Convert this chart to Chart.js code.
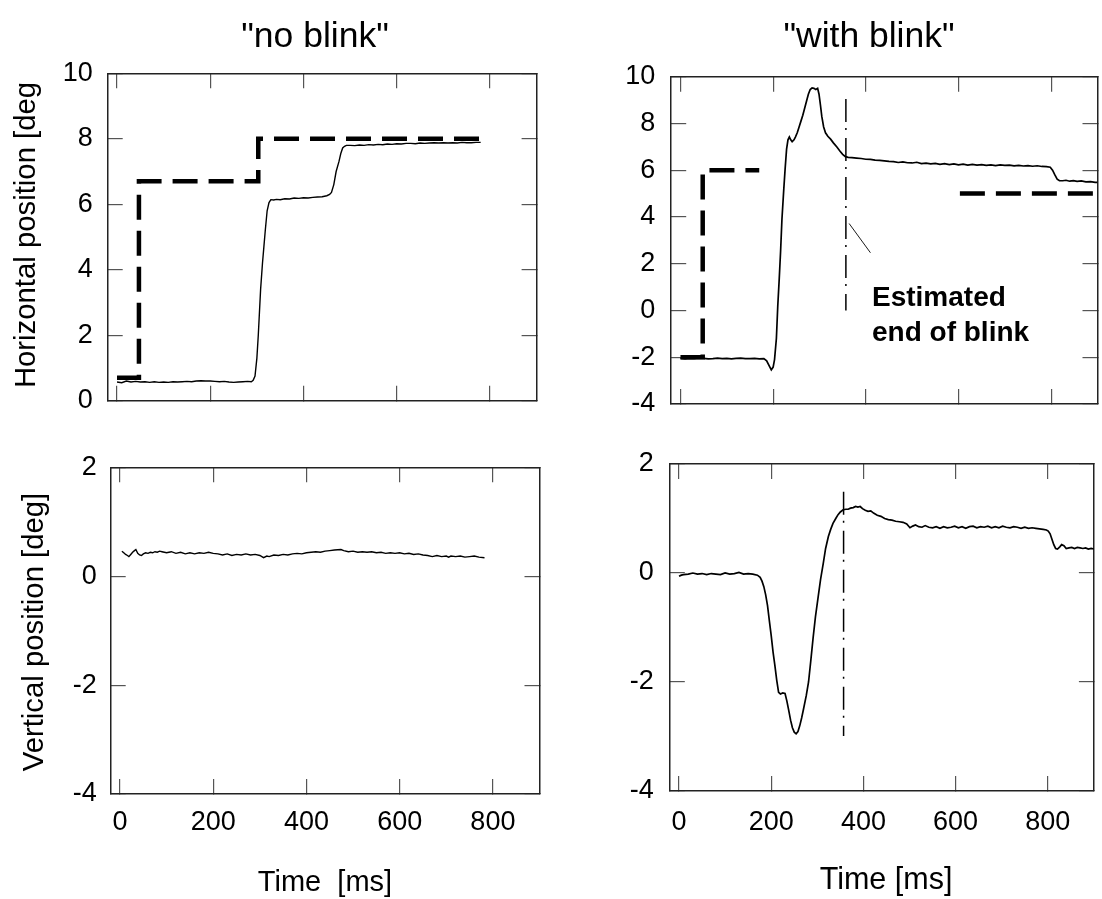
<!DOCTYPE html>
<html><head><meta charset="utf-8">
<script src="https://cdn.jsdelivr.net/npm/chart.js@4/dist/chart.umd.min.js"></script>
<style>
html,body{margin:0;padding:0;background:#fff;}
#wrap{position:relative;width:1102px;height:899px;overflow:hidden;font-family:"Liberation Sans",Arial,sans-serif;color:#000;background:#fff;}
canvas{position:absolute;left:0;top:0;}
.t{position:absolute;white-space:pre;line-height:1;transform:translate(-50%,-50%);}
.v{transform:translate(-50%,-50%) rotate(-90deg);}
.b{position:absolute;white-space:pre;line-height:1;font-weight:bold;}
</style></head>
<body><div id="wrap">
<canvas id="cTL" width="1102" height="899"></canvas>
<canvas id="cTR" width="1102" height="899"></canvas>
<canvas id="cBL" width="1102" height="899"></canvas>
<canvas id="cBR" width="1102" height="899"></canvas>
<div class="t" style="left:315px;top:36px;font-size:35.5px">"no blink"</div>
<div class="t" style="left:869px;top:36px;font-size:35.5px">"with blink"</div>
<div class="t v" style="left:25px;top:235px;font-size:29.3px">Horizontal position [deg</div>
<div class="t v" style="left:33px;top:632px;font-size:29.3px">Vertical position [deg]</div>
<div class="t" style="left:325px;top:881px;font-size:29px">Time  [ms]</div>
<div class="t" style="left:886px;top:878px;font-size:30.5px">Time [ms]</div>
<div class="b" style="left:872px;top:283px;font-size:28px">Estimated</div>
<div class="b" style="left:872px;top:318px;font-size:28px">end of blink</div>
</div>
<script>
// ---------- tick values ----------
const xTickVals = [0, 200, 400, 600, 800];
const yTicksTop = [0, 2, 4, 6, 8, 10];
const yTicksTopRight = [-4, -2, 0, 2, 4, 6, 8, 10];
const yTicksBottom = [-4, -2, 0, 2];

// ---------- "no blink" horizontal: eye position ----------
const nbHorT = [0,10,20,30,40,50,60,70,80,90,100,110,120,130,140,150,160,170,180,190,200,210,220,230,240,250,260,270,280,288,292,296,300,303,308,312,315,318,322,326,330,336,342,350,360,370,380,390,400,410,420,430,440,450,456,460,465,470,476,480,484,488,492,500,510,520,530,540,550,560,570,580,590,600,610,620,630,640,650,660,670,680,690,700,710,720,730,740,750,760,770,780];
const nbHorV = [0.57,0.55,0.6,0.57,0.59,0.57,0.58,0.56,0.58,0.56,0.57,0.56,0.58,0.57,0.58,0.59,0.58,0.6,0.61,0.6,0.6,0.59,0.58,0.59,0.57,0.56,0.57,0.58,0.59,0.58,0.62,0.75,1.3,2.0,3.4,4.2,4.7,5.2,5.8,6.05,6.14,6.13,6.15,6.14,6.17,6.16,6.19,6.18,6.2,6.19,6.21,6.22,6.23,6.26,6.3,6.36,6.6,7.0,7.3,7.55,7.72,7.77,7.8,7.8,7.79,7.81,7.8,7.82,7.81,7.83,7.82,7.84,7.83,7.85,7.84,7.86,7.86,7.85,7.87,7.86,7.87,7.88,7.87,7.88,7.87,7.88,7.87,7.89,7.88,7.88,7.89,7.89];
// ---------- "no blink" horizontal: target ----------
const nbTgtT = [0, 47, 47, 303, 303, 781];
const nbTgtV = [0.7, 0.7, 6.7, 6.7, 8.0, 8.0];

// ---------- "with blink" horizontal: eye position ----------
const wbHorT = [0,10,20,30,40,50,60,70,80,90,100,110,120,130,140,150,160,170,180,186,191,196,200,203,207,210,213,216,219,223,226,229,232,235,238,241,245,248,252,256,260,264,268,272,276,280,284,288,292,296,299,302,305,309,313,318,324,330,338,344,350,356,362,370,380,390,400,410,420,430,440,450,460,470,480,490,500,510,520,530,540,550,560,570,580,590,600,610,620,630,640,650,660,670,680,690,700,710,720,730,740,750,760,770,780,790,798,803,808,813,818,825,832,840,848,856,865,875,885,895,900];
const wbHorV = [-2.05,-2.07,-2.05,-2.06,-2.04,-2.05,-2.07,-2.06,-2.04,-2.06,-2.05,-2.07,-2.05,-2.04,-2.06,-2.06,-2.05,-2.07,-2.06,-2.15,-2.35,-2.54,-2.42,-2.1,-1.2,0.2,1.3,2.5,3.9,5.2,6.1,6.9,7.3,7.42,7.3,7.22,7.3,7.42,7.6,7.85,8.1,8.35,8.65,8.95,9.25,9.45,9.52,9.5,9.45,9.5,9.25,8.8,8.3,7.85,7.6,7.45,7.33,7.17,6.98,6.82,6.68,6.58,6.55,6.54,6.52,6.5,6.47,6.46,6.43,6.42,6.4,6.38,6.37,6.33,6.36,6.32,6.31,6.34,6.28,6.3,6.27,6.29,6.25,6.28,6.24,6.27,6.23,6.26,6.22,6.25,6.22,6.24,6.21,6.23,6.2,6.23,6.21,6.22,6.19,6.21,6.18,6.2,6.17,6.19,6.16,6.15,6.13,6.0,5.8,5.62,5.55,5.55,5.57,5.53,5.55,5.52,5.54,5.5,5.51,5.48,5.48];
// ---------- "with blink" horizontal: target (gap = null) ----------
const wbTgtT = [0, 48, 48, 170, 400, 603, 900];
const wbTgtV = [-2.0, -2.0, 6.0, 6.0, null, 5.0, 5.0];

// ---------- "no blink" vertical: eye position ----------
const nbVerT = [4,8,12,16,19,23,27,31,34,38,42,46,50,55,60,65,70,75,80,85,90,95,100,110,120,130,140,150,160,170,180,190,200,210,220,230,240,250,260,270,280,290,300,308,315,320,330,340,350,360,370,380,390,400,410,420,430,440,450,460,474,480,490,500,510,520,530,540,550,560,570,580,590,600,610,620,630,640,650,660,670,680,690,700,705,710,720,730,740,750,760,770,782];
const nbVerV = [0.46,0.43,0.4,0.38,0.36,0.4,0.44,0.47,0.49,0.42,0.39,0.38,0.41,0.43,0.42,0.44,0.43,0.45,0.44,0.46,0.45,0.44,0.43,0.45,0.42,0.44,0.41,0.43,0.41,0.43,0.42,0.44,0.42,0.41,0.39,0.41,0.38,0.4,0.39,0.41,0.39,0.4,0.38,0.34,0.37,0.36,0.39,0.38,0.4,0.39,0.41,0.42,0.41,0.43,0.44,0.45,0.44,0.46,0.47,0.48,0.49,0.47,0.45,0.46,0.44,0.45,0.44,0.45,0.43,0.44,0.42,0.43,0.42,0.43,0.41,0.42,0.4,0.41,0.39,0.38,0.36,0.38,0.36,0.37,0.35,0.37,0.36,0.37,0.35,0.36,0.37,0.35,0.34];

// ---------- "with blink" vertical: eye position ----------
const wbVerT = [0,5,10,20,30,40,50,60,70,80,90,100,110,120,130,140,150,160,170,176,180,184,188,192,196,200,204,208,212,216,220,225,230,234,238,242,246,250,254,258,262,266,270,276,281,286,291,296,302,307,313,318,324,329,334,340,345,350,356,362,367,372,378,383,388,393,398,404,410,416,422,430,438,446,454,462,470,478,486,494,501,507,513,520,527,534,542,550,558,566,574,582,590,598,606,614,622,630,638,646,654,662,670,678,686,694,702,710,718,726,734,742,750,758,766,774,782,790,797,801,805,809,813,817,821,826,830,835,840,846,852,858,864,870,876,882,888,894,900];
const wbVerV = [-0.06,-0.04,-0.03,-0.02,0.0,-0.02,-0.01,-0.03,-0.01,-0.02,-0.03,0.0,-0.02,-0.01,0.01,-0.02,-0.01,-0.02,-0.04,-0.08,-0.15,-0.25,-0.4,-0.6,-0.88,-1.15,-1.45,-1.7,-1.97,-2.19,-2.22,-2.2,-2.21,-2.35,-2.52,-2.7,-2.84,-2.92,-2.95,-2.91,-2.8,-2.66,-2.5,-2.25,-2.0,-1.6,-1.18,-0.8,-0.43,-0.12,0.18,0.45,0.67,0.8,0.91,1.0,1.07,1.12,1.16,1.17,1.17,1.19,1.2,1.22,1.21,1.22,1.18,1.15,1.13,1.14,1.1,1.06,1.04,1.0,0.98,0.97,0.95,0.94,0.93,0.9,0.83,0.86,0.88,0.85,0.84,0.87,0.84,0.83,0.85,0.82,0.85,0.83,0.84,0.86,0.83,0.85,0.82,0.85,0.86,0.83,0.85,0.84,0.86,0.83,0.85,0.83,0.86,0.84,0.83,0.85,0.84,0.82,0.84,0.82,0.83,0.82,0.81,0.8,0.79,0.77,0.72,0.62,0.52,0.45,0.44,0.48,0.52,0.5,0.45,0.46,0.47,0.45,0.47,0.46,0.45,0.46,0.44,0.45,0.44,0.45];

// ---------- estimated end of blink (dash-dot markers) ----------
const blinkEndT = [357, 357];
const blinkEndHorV = [9.05, 0.0];
const blinkEndVerV = [1.49, -2.99];
const pointerT = [364, 410];
const pointerV = [3.72, 2.47];

// ---------- helpers ----------
const FONT = '"Liberation Sans", Arial, sans-serif';
const AXW = 100;  // width reserved for left tick labels
const AXH = 60;   // height reserved for bottom tick labels
function pts(t, v) { return t.map((x, i) => ({ x: x, y: v[i] })); }
function gridOpt() { return { display: true, drawOnChartArea: false, drawTicks: true, tickLength: -15, color: '#555', lineWidth: 1.2 }; }
function borderOpt() { return { display: true, color: '#222', width: 1.5 }; }
function setTicks(vals) { return s => { s.ticks = vals.map(v => ({ value: v })); }; }

// p.area = {left, right, top, bottom} of the plotting box in page pixels
function build(id, p, datasets) {
  const W = 1102, H = 899;
  const xh = p.xLabels ? AXH : 0;
  const pad = { left: p.area.left - AXW, right: W - p.area.right, top: p.area.top, bottom: H - p.area.bottom - xh };
  const xs = { type: 'linear', min: -20, max: 900, afterBuildTicks: setTicks(xTickVals) };
  const ys = { type: 'linear', min: p.yMin, max: p.yMax, afterBuildTicks: setTicks(p.yTicks) };
  new Chart(document.getElementById(id), {
    type: 'line',
    data: { datasets: datasets },
    options: {
      responsive: false, animation: false, events: [],
      layout: { padding: pad },
      plugins: { legend: { display: false }, tooltip: { enabled: false }, title: { display: false } },
      elements: { point: { radius: 0 }, line: { tension: 0 } },
      scales: {
        x: Object.assign({}, xs, { position: 'bottom', grid: gridOpt(), border: borderOpt(), afterFit: s => { s.height = xh; },
          ticks: { display: p.xLabels, font: { family: FONT, size: 27 }, color: '#000', padding: p.xPad, maxRotation: 0, autoSkip: false } }),
        x2: Object.assign({}, xs, { position: 'top', grid: gridOpt(), border: borderOpt(), afterFit: s => { s.height = 0; }, ticks: { display: false } }),
        y: Object.assign({}, ys, { position: 'left', grid: gridOpt(), border: borderOpt(), afterFit: s => { s.width = AXW; },
          ticks: { font: { family: FONT, size: 27 }, color: '#000', padding: p.yPad, autoSkip: false } }),
        y2: Object.assign({}, ys, { position: 'right', grid: gridOpt(), border: borderOpt(), afterFit: s => { s.width = 0; }, ticks: { display: false } })
      }
    }
  });
}

const eye = (t, v, w) => ({ data: pts(t, v), borderColor: '#000', borderWidth: w, pointRadius: 0, fill: false, xAxisID: 'x', yAxisID: 'y' });
const target = (t, v) => ({ data: pts(t, v), borderColor: '#000', borderWidth: 4.5, borderDash: [25, 11], pointRadius: 0, fill: false, spanGaps: false, xAxisID: 'x', yAxisID: 'y' });
const dashDot = (t, v) => ({ data: pts(t, v), borderColor: '#000', borderWidth: 1.5, borderDash: [23, 6, 2, 8], pointRadius: 0, fill: false, xAxisID: 'x', yAxisID: 'y' });

build('cTL', { yMin: 0, yMax: 10, yTicks: yTicksTop, xLabels: false, xPad: 0, yPad: 30,
  area: { left: 107.7, right: 536.6, top: 73.3, bottom: 400.7 } },
  [eye(nbHorT, nbHorV, 1.4), target(nbTgtT, nbTgtV)]);

build('cTR', { yMin: -4, yMax: 10, yTicks: yTicksTopRight, xLabels: false, xPad: 0, yPad: 31,
  area: { left: 671.2, right: 1097.5, top: 76.7, bottom: 404 } },
  [eye(wbHorT, wbHorV, 1.7), target(wbTgtT, wbTgtV), dashDot(blinkEndT, blinkEndHorV),
   { data: pts(pointerT, pointerV), borderColor: '#000', borderWidth: 0.9, pointRadius: 0, fill: false, xAxisID: 'x', yAxisID: 'y' }]);

build('cBL', { yMin: -4, yMax: 2, yTicks: yTicksBottom, xLabels: true, xPad: 27.8, yPad: 29,
  area: { left: 110.7, right: 539.5, top: 467.3, bottom: 794 } },
  [eye(nbVerT, nbVerV, 1.4)]);

build('cBR', { yMin: -4, yMax: 2, yTicks: yTicksBottom, xLabels: true, xPad: 30.8, yPad: 31,
  area: { left: 669.8, right: 1097, top: 464, bottom: 791 } },
  [eye(wbVerT, wbVerV, 1.7), dashDot(blinkEndT, blinkEndVerV)]);
</script>
</body></html>
